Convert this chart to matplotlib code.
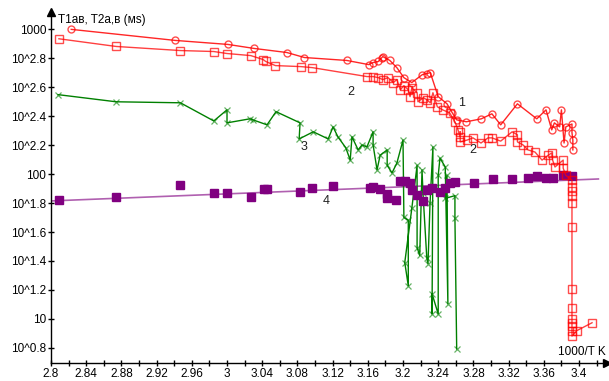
import matplotlib
matplotlib.use('Agg')
import matplotlib.pyplot as plt
import numpy as np

plt.rcParams['font.family'] = ['Liberation Sans', 'DejaVu Sans']

# curve 1: T1 (circles)
x1 = [2.823, 2.941, 3.001, 3.031, 3.068, 3.088, 3.136, 3.161, 3.166, 3.172, 3.176, 3.177,
      3.185, 3.193, 3.201, 3.210, 3.222, 3.227, 3.231, 3.240, 3.250, 3.256, 3.261, 3.272,
      3.289, 3.301, 3.311, 3.330, 3.352, 3.3625, 3.369, 3.372, 3.378, 3.380, 3.383, 3.385,
      3.392, 3.392, 3.393, 3.393]
y1 = [1000, 839, 787, 738, 692, 639, 610, 571, 590, 600, 639, 649,
      610, 544, 464, 429, 487, 495, 502, 343, 306, 265, 237, 230,
      241, 261, 219, 306, 241, 278, 202, 226, 212, 278, 164, 212,
      222, 193, 172, 147]

# curve 2: T2 (open squares)
x2 = [2.809, 2.874, 2.947, 2.985, 3.000, 3.027, 3.041, 3.044, 3.055, 3.084, 3.097, 3.159,
      3.166, 3.172, 3.177, 3.183, 3.189, 3.193, 3.197, 3.201, 3.206, 3.208, 3.210, 3.216,
      3.217, 3.223, 3.227, 3.231, 3.234, 3.239, 3.245, 3.253, 3.259, 3.2625, 3.265, 3.265,
      3.265, 3.273, 3.2795, 3.2886, 3.2966, 3.301, 3.311, 3.324, 3.330, 3.330, 3.3364, 3.342,
      3.350, 3.358, 3.365, 3.369, 3.370, 3.3727, 3.382, 3.382, 3.385, 3.392, 3.392, 3.392,
      3.392, 3.392, 3.392, 3.392, 3.392, 3.392, 3.392, 3.392, 3.392, 3.392, 3.3977, 3.4148]
y2 = [861, 762, 714, 703, 681, 659, 619, 600, 562, 553, 544, 472,
      472, 464, 450, 464, 429, 450, 383, 408, 383, 343, 395, 365,
      316, 337, 327, 311, 365, 292, 278, 265, 230, 202, 181, 196,
      167, 172, 178, 164, 178, 178, 169, 196, 187, 167, 159, 147,
      142, 125, 135, 140, 125, 112, 125, 110, 98, 91, 81, 77,
      71, 63, 43, 16.1, 11.9, 10.0, 9.4, 8.9, 8.3, 7.6, 8.3, 9.4]

# curve 3 (crosses)
x3 = [2.808, 2.874, 2.947, 2.985, 3.000, 3.000, 3.026, 3.0295, 3.0455, 3.0557, 3.083, 3.082,
      3.098, 3.115, 3.1205, 3.126, 3.135, 3.140, 3.142, 3.149, 3.1534, 3.159, 3.166, 3.166,
      3.1705, 3.174, 3.182, 3.182, 3.1875, 3.193, 3.200, 3.201, 3.206, 3.206, 3.202, 3.210,
      3.216, 3.216, 3.219, 3.2216, 3.2227, 3.227, 3.2284, 3.2307, 3.234, 3.233, 3.233, 3.240,
      3.240, 3.242, 3.248, 3.251, 3.250, 3.248, 3.259, 3.259, 3.261]
y3 = [354, 316, 311, 233, 278, 226, 241, 237, 219, 270, 226, 175,
      196, 175, 212, 181, 152, 125, 181, 147, 159, 154, 196, 159,
      107, 135, 147, 115, 102, 119, 172, 50.2, 48, 16.9, 24.5, 58,
      115, 31.1, 27.4, 107, 73.8, 26.5, 24.1, 63, 154, 10.8, 14.9, 10.8,
      98, 129, 112, 12.7, 98, 68, 71, 49.4, 6.2]

# curve 4 (filled squares) + trend line
x4 = [2.809, 2.874, 2.947, 2.985, 3.000, 3.027, 3.042, 3.046, 3.0835, 3.097, 3.121, 3.162,
      3.166, 3.174, 3.1815, 3.1815, 3.192, 3.1966, 3.202, 3.208, 3.210, 3.2156, 3.2224, 3.227,
      3.2326, 3.242, 3.248, 3.2534, 3.259, 3.2807, 3.3017, 3.3235, 3.3417, 3.352, 3.363, 3.371,
      3.382, 3.3917]
y4 = [65.9, 69.2, 83.9, 74.5, 74.5, 69.9, 78.4, 78.4, 75.5, 79.6, 83.2, 79.6,
      81.7, 78.4, 73.4, 68.9, 65.9, 89.7, 89.7, 87.1, 77.4, 71.5, 65.3, 77.4,
      79.6, 75.4, 79.6, 87.1, 88.5, 87.1, 91.9, 92.3, 93.3, 96.4, 94.6, 93.3,
      98.4, 97.7]

labels = ['1', '2', '2', '3', '4']
label_x = [3.266, 3.141, 3.2795, 3.0875, 3.1125]
label_y = [311, 371, 147, 154, 65]

ytick_pow = [0.8, 1.0, 1.2, 1.4, 1.6, 1.8, 2.0, 2.2, 2.4, 2.6, 2.8, 3.0]
ytick_lbl = ['10^0.8', '10', '10^1.2', '10^1.4', '10^1.6', '10^1.8', '100',
             '10^2.2', '10^2.4', '10^2.6', '10^2.8', '1000']

fig = plt.figure(figsize=(6.09, 3.81), dpi=100)
ax = fig.add_axes([51/609, 18/381, 556/609, 351/381])
ax.set_yscale('log')
ax.set_xlim(2.8, 3.4318)
ax.set_ylim(10**0.695, 10**3.12)

# trend line for curve 4 (fit in log space)
k, b = np.polyfit(x4, np.log10(y4), 1)
xf = np.array([2.8, 3.422])
ax.plot(xf, 10**(k*xf + b), color='#b060b0', lw=1.2, zorder=2)

ax.plot(x3, y3, color='#008000', lw=1, marker='x', ms=5, mew=0.9,
        mec=(0, 0.5, 0, 0.6), zorder=3)
ax.plot(x4, y4, ls='none', marker='s', ms=6, color='#800080', zorder=4)
ax.plot(x2, y2, color=(1, 0, 0, 0.75), lw=1, marker='s', ms=5.5, mfc='none',
        mec=(1, 0, 0, 0.7), mew=1, zorder=5)
ax.plot(x1, y1, color=(1, 0, 0, 0.85), lw=1, marker='o', ms=5, mfc='none',
        mec=(1, 0, 0, 0.7), mew=1, zorder=6)

for t, lx, ly in zip(labels, label_x, label_y):
    ax.text(lx, ly, t, fontsize=9, color='#202020', ha='center', va='center', zorder=7)

ax.spines['top'].set_visible(False)
ax.spines['right'].set_visible(False)
ax.spines['left'].set_linewidth(1)
ax.spines['bottom'].set_linewidth(1)

ax.set_xticks(np.arange(2.8, 3.401, 0.04))
ax.set_xticklabels(['%g' % round(v, 2) for v in np.arange(2.8, 3.401, 0.04)])
ax.set_xticks(np.arange(2.82, 3.43, 0.04), minor=True)
ax.set_yticks([10**p for p in ytick_pow])
ax.set_yticklabels(ytick_lbl)
ax.yaxis.set_minor_locator(matplotlib.ticker.NullLocator())
ax.tick_params(axis='both', which='both', direction='inout', length=5, width=1,
               labelsize=8.5, colors='black')
ax.tick_params(axis='x', pad=1)
ax.tick_params(axis='y', pad=1)

# axis arrows
ax.plot(1, 0, '>k', ms=6, transform=ax.transAxes, clip_on=False)
ax.plot(0, 1, '^k', ms=6, transform=ax.transAxes, clip_on=False)

fig.text(58/609, 1 - 20/381, 'T1ав, T2а,в (мs)', fontsize=8.5, va='center', ha='left')
fig.text(606/609, 1 - 352/381, '1000/T K', fontsize=8.5, va='center', ha='right')

fig.savefig('out.png', dpi=100)
